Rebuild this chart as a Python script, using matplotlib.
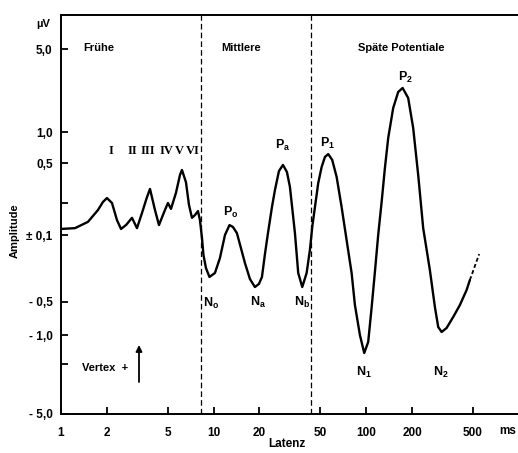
import numpy as np
import matplotlib
matplotlib.use("Agg")
import matplotlib.pyplot as plt
from matplotlib.ticker import NullLocator

plt.rcParams['font.family'] = ['Liberation Sans', 'DejaVu Sans']
plt.rcParams['font.weight'] = 'bold'
plt.rcParams['mathtext.fontset'] = 'custom'
plt.rcParams['mathtext.rm'] = 'Liberation Sans'
plt.rcParams['mathtext.bf'] = 'Liberation Sans:bold'

# ---------------- data ----------------
lat_ms = [1.00, 1.235, 1.503, 1.748, 1.884, 2.002, 2.159, 2.328, 2.474, 2.667,
          2.920, 3.148, 3.395, 3.644, 3.831, 4.130, 4.387, 4.803, 5.025, 5.258,
          5.669, 6.024, 6.208, 6.594, 6.900, 7.220, 7.553, 7.902, 8.144, 8.395,
          8.587, 8.917, 9.400, 10.21, 11.01, 11.88, 12.72, 13.40, 14.23, 15.12,
          16.06, 17.32, 18.67, 19.84, 20.76, 21.72, 22.73, 24.14, 25.26, 26.83,
          28.50, 30.27, 31.67, 34.16, 35.89, 38.14, 40.75, 42.82, 44.35, 46.19,
          48.55, 51.10, 53.70, 56.44, 59.97, 64.09, 69.10, 74.5, 80.35, 84.46,
          91.06, 97.2, 103.2, 108.6, 114.2, 120.0, 126.4, 132.8, 139.6, 150.5,
          162.3, 173.5, 188.7, 203.5, 219.5, 236.7, 261.8, 282.4, 296.9, 312.6,
          337.0, 372.3, 411.8, 455.7, 478.7]
amp_uv = [0.114, 0.116, 0.133, 0.172, 0.205, 0.224, 0.200, 0.138, 0.114, 0.124,
          0.145, 0.116, 0.161, 0.224, 0.276, 0.172, 0.124, 0.172, 0.200, 0.176,
          0.252, 0.380, 0.426, 0.322, 0.192, 0.145, 0.154, 0.168, 0.138, -0.107,
          -0.162, -0.221, -0.274, -0.249, -0.174, 0.100, 0.124, 0.119, 0.104, -0.137,
          -0.196, -0.288, -0.349, -0.324, -0.274, -0.158, 0.104, 0.183, 0.269, 0.416,
          0.478, 0.407, 0.289, 0.104, -0.249, -0.349, -0.249, -0.143, 0.119, 0.183,
          0.316, 0.456, 0.572, 0.611, 0.535, 0.363, 0.183, -0.113, -0.249, -0.533,
          -1.000, -1.538, -1.182, -0.567, -0.243, 0.100, 0.205, 0.446, 0.875, 1.593,
          2.173, 2.348, 1.934, 1.081, 0.380, 0.116, -0.232, -0.555, -0.845, -0.939,
          -0.863, -0.685, -0.533, -0.375, -0.295]
# dashed continuation of the late potential
lat_ext = [478.7, 551.0]
amp_ext = [-0.295, -0.158]

# boundaries between early / middle / late potentials (ms)
section_bounds = [8.3, 43.5]
section_names = ["Frühe", "Mittlere", "Späte Potentiale"]
wave_numerals = ["I", "II", "III", "IV", "V", "VI"]

xticks = [1, 2, 5, 10, 20, 50, 100, 200, 500]
xticklabels = ["1", "2", "5", "10", "20", "50", "100", "200", "500"]
yticks = [5.0, 1.0, 0.5, 0.2, 0.0, -0.5, -1.0, -2.0, -5.0]
yticklabels = ["5,0", "1,0", "0,5", "", "± 0,1", "- 0,5", "- 1,0", "", "- 5,0"]

# ---------------- amplitude scale of the original drawing ----------------
# signed decades relative to 0.1 µV -> drawing units (hand-drawn, slightly uneven)
U_ANCH = np.array([-2.2, -1.699, -1.301, -1.0, -0.699, 0.0, 0.301, 0.699, 1.0, 1.699, 2.2])
P_ANCH = np.array([-242.0, -179.0, -129.0, -100.0, -67.0, 0.0, 32.0, 72.0, 103.0, 186.0, 245.5])


def fwd(a):
    a = np.asarray(a, dtype=float)
    u = np.sign(a) * np.log10(np.maximum(np.abs(a), 0.1) / 0.1)
    return np.interp(u, U_ANCH, P_ANCH)


def inv(p):
    p = np.asarray(p, dtype=float)
    u = np.interp(p, P_ANCH, U_ANCH)
    return np.sign(u) * 0.1 * 10.0 ** np.abs(u)


W, H = 518, 453
fig = plt.figure(figsize=(W / 100, H / 100), dpi=100)
ax = fig.add_axes([61 / W, 1 - 414 / H, (518 - 61) / W, (414 - 15) / H])


def px(x, y):
    return (x / W, 1 - y / H)


ax.set_xscale('log')
ax.set_xlim(1, 990)
ax.set_yscale('function', functions=(fwd, inv))
ax.set_ylim(-5.0, float(inv(220.0)))

ax.plot(lat_ms, amp_uv, color='black', lw=1.7, solid_joinstyle='round', solid_capstyle='round')
ax.plot(lat_ext, amp_ext, color='black', lw=1.3, linestyle=(0, (2.2, 1.4)))

for b in section_bounds:
    ax.axvline(b, color='black', lw=0.9, linestyle=(0, (4.5, 2.5)))

ax.set_xticks(xticks)
ax.set_xticklabels(xticklabels)
ax.xaxis.set_minor_locator(NullLocator())
ax.set_yticks(yticks)
ax.set_yticklabels(yticklabels)
ax.yaxis.set_minor_locator(NullLocator())
ax.tick_params(axis='both', direction='in', length=5, width=1.3, labelsize=8.5)
ax.tick_params(axis='x', pad=9)
ax.tick_params(axis='y', pad=6)

for s in ['left', 'top', 'bottom']:
    ax.spines[s].set_linewidth(1.4)
ax.spines['right'].set_visible(False)

# axis texts
fig.text(*px(43, 24), "µV", ha='center', va='center', fontsize=8)
fig.text(*px(15, 231), "Amplitude", ha='center', va='center', fontsize=8, rotation=90)
fig.text(*px(287, 444), "Latenz", ha='center', va='center', fontsize=8.5)
fig.text(*px(516, 431), "ms", ha='right', va='center', fontsize=8.5)

# section titles
for name, (x, y) in zip(section_names, [(99, 48), (241, 48), (401, 48)]):
    fig.text(*px(x, y), name, ha='center', va='center', fontsize=8)

# roman numerals of the early waves
for lab, x in zip(wave_numerals, [111, 132, 148, 166, 179, 193]):
    fig.text(*px(x, 151), lab, ha='center', va='center', fontsize=9,
             family=['Liberation Serif', 'DejaVu Serif'], weight='bold')

# peak labels
peaks = [("P", "o", 231, 212), ("P", "a", 283, 145), ("P", "1", 328, 143), ("P", "2", 405, 77),
         ("N", "o", 211, 303), ("N", "a", 258, 302), ("N", "b", 302, 302),
         ("N", "1", 364, 372), ("N", "2", 441, 372)]
for big, sub, x, y in peaks:
    fig.text(*px(x, y), r"$\mathbf{%s_{%s}}$" % (big, sub), ha='center', va='center', fontsize=9)

# polarity note
fig.text(*px(82, 368), "Vertex  +", ha='left', va='center', fontsize=8)
ax.annotate('', xy=px(139, 345), xytext=px(139, 382), xycoords='figure fraction',
            textcoords='figure fraction',
            arrowprops=dict(arrowstyle='-|>', lw=1.3, color='black', mutation_scale=9,
                            shrinkA=0, shrinkB=0))

fig.savefig("out.png", dpi=100, facecolor='white')
